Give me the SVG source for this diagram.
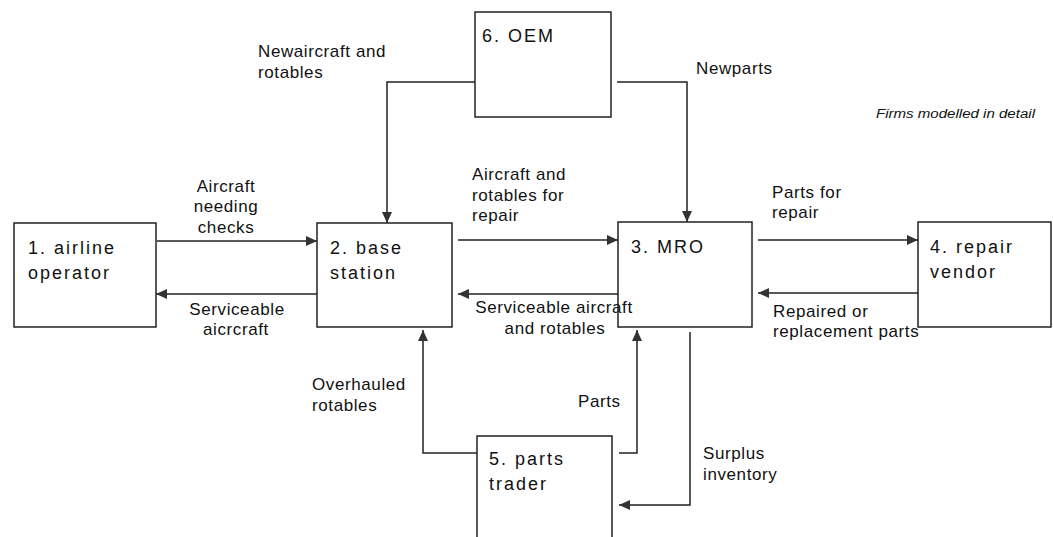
<svg xmlns="http://www.w3.org/2000/svg" width="1053" height="537" viewBox="0 0 1053 537">
<style>
.box{fill:#fff;stroke:#222;stroke-width:1.5}
.bt{font-family:"Liberation Sans",Arial,sans-serif;font-size:18px;letter-spacing:2px;fill:#111}
.lb{font-family:"Liberation Sans",Arial,sans-serif;font-size:17px;letter-spacing:0.6px;fill:#111}
.c{text-anchor:middle}
.ln{fill:none;stroke:#222;stroke-width:1.5}
.note{font-family:"Liberation Sans",Arial,sans-serif;font-size:12px;font-style:italic;fill:#111}
</style>
<defs>
<marker id="ah" markerUnits="userSpaceOnUse" markerWidth="12" markerHeight="10" refX="11" refY="5" orient="auto">
<path d="M0,0 L11,5 L0,10 z" fill="#333"/>
</marker>
</defs>
<rect width="1053" height="537" fill="#fff"/>
<g id="n1"><rect class="box" x="14" y="223" width="142" height="104"/><text class="bt" x="28" y="254">1. airline</text><text class="bt" x="28" y="279">operator</text></g>
<g id="n2"><rect class="box" x="317" y="223" width="135" height="104"/><text class="bt" x="330" y="254">2. base</text><text class="bt" x="330" y="279">station</text></g>
<g id="n3"><rect class="box" x="618" y="222" width="134" height="105"/><text class="bt" x="631" y="253">3. MRO</text></g>
<g id="n4"><rect class="box" x="918" y="222" width="133" height="105"/><text class="bt" x="930" y="253">4. repair</text><text class="bt" x="930" y="278">vendor</text></g>
<g id="n5"><rect class="box" x="477" y="436" width="135" height="110"/><text class="bt" x="489" y="465">5. parts</text><text class="bt" x="489" y="490">trader</text></g>
<g id="n6"><rect class="box" x="475" y="12" width="136" height="105"/><text class="bt" x="482" y="42">6. OEM</text></g>
<g id="connectors">
<path class="ln" d="M475,82 H387 V223" marker-end="url(#ah)"/>
<path class="ln" d="M617,82 H687 V222" marker-end="url(#ah)"/>
<path class="ln" d="M157,241 H317" marker-end="url(#ah)"/>
<path class="ln" d="M317,294 H156" marker-end="url(#ah)"/>
<path class="ln" d="M458,240 H618" marker-end="url(#ah)"/>
<path class="ln" d="M618,294 H458" marker-end="url(#ah)"/>
<path class="ln" d="M758,240 H918" marker-end="url(#ah)"/>
<path class="ln" d="M918,293 H758" marker-end="url(#ah)"/>
<path class="ln" d="M477,453 H423 V330" marker-end="url(#ah)"/>
<path class="ln" d="M619,453 H637 V330" marker-end="url(#ah)"/>
<path class="ln" d="M690,332 V505 H619" marker-end="url(#ah)"/>
</g>
<g id="labels">
<text class="lb" x="258" y="57">Newaircraft and</text>
<text class="lb" x="258" y="78">rotables</text>
<text class="lb" x="696" y="74">Newparts</text>
<text class="note" x="876" y="118" textLength="159" lengthAdjust="spacingAndGlyphs">Firms modelled in detail</text>
<text class="lb c" x="226" y="192">Aircraft</text>
<text class="lb c" x="226" y="212">needing</text>
<text class="lb c" x="226" y="233">checks</text>
<text class="lb" x="472" y="180">Aircraft and</text>
<text class="lb" x="472" y="201">rotables for</text>
<text class="lb" x="472" y="221">repair</text>
<text class="lb" x="772" y="198">Parts for</text>
<text class="lb" x="772" y="218">repair</text>
<text class="lb c" x="237" y="315">Serviceable</text>
<text class="lb c" x="236" y="335">aicrcraft</text>
<text class="lb c" x="554" y="313">Serviceable aircraft</text>
<text class="lb c" x="555" y="334">and rotables</text>
<text class="lb" x="773" y="317">Repaired or</text>
<text class="lb" x="773" y="337">replacement parts</text>
<text class="lb" x="312" y="390">Overhauled</text>
<text class="lb" x="312" y="411">rotables</text>
<text class="lb" x="578" y="407">Parts</text>
<text class="lb" x="703" y="459">Surplus</text>
<text class="lb" x="703" y="480">inventory</text>
</g>
</svg>
